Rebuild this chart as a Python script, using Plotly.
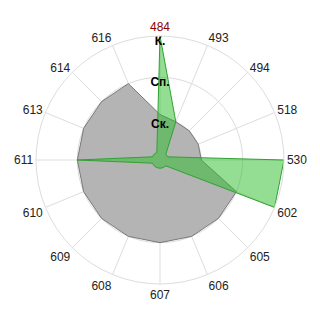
import plotly.graph_objects as go

categories = ["484", "493", "494", "518", "530", "602", "605", "606",
              "607", "608", "609", "610", "611", "613", "614", "616"]
gray_values = [1.1, 1.0, 1.0, 1.0, 1.0, 2.0, 2.0, 2.0,
               2.0, 2.0, 2.0, 2.0, 2.0, 2.0, 2.0, 2.0]
green_values = [3.0, 1.0, 0.2, 0.2, 3.0, 3.0, 0.2, 0.2,
                0.2, 0.2, 0.2, 0.2, 2.0, 0.2, 0.2, 0.2]
level_values = [1, 2, 3]
level_labels = ["Ск.", "Сп.", "К."]
highlight = "484"

tick_text = [f'<span style="color:#8b0000">{c}</span>' if c == highlight else c
             for c in categories]

fig = go.Figure()
fig.add_trace(go.Scatterpolar(
    r=gray_values + gray_values[:1], theta=categories + categories[:1],
    mode="lines", fill="toself", fillcolor="rgb(180,180,180)",
    line=dict(color="rgb(120,120,120)", width=1), hoverinfo="skip"))
fig.add_trace(go.Scatterpolar(
    r=green_values + green_values[:1], theta=categories + categories[:1],
    mode="lines", fill="toself", fillcolor="rgba(40,190,40,0.5)",
    line=dict(color="rgb(50,160,50)", width=1), hoverinfo="skip"))
fig.add_trace(go.Scatterpolar(
    r=level_values, theta=[categories[0]] * len(level_values),
    mode="text", text=level_labels, textposition="bottom center",
    textfont=dict(family="Liberation Sans, Arial", size=12, color="black", weight="bold"),
    hoverinfo="skip"))

fig.update_layout(
    width=320, height=320,
    margin=dict(l=36, r=36, t=36, b=36),
    paper_bgcolor="white", plot_bgcolor="white",
    showlegend=False,
    font=dict(family="Liberation Sans, Arial", size=12, color="#222"),
    polar=dict(
        bgcolor="white",
        domain=dict(x=[0, 1], y=[0, 1]),
        radialaxis=dict(range=[0, 3], tickvals=level_values, showticklabels=False,
                        showline=False, ticks="", gridcolor="#dddddd", gridwidth=1),
        angularaxis=dict(direction="clockwise", rotation=90, type="category",
                         categoryarray=categories, tickmode="array",
                         tickvals=categories, ticktext=tick_text,
                         gridcolor="#dddddd", linecolor="#dddddd", linewidth=1,
                         ticks="", tickfont=dict(size=12, color="#222")),
    ),
)
fig.write_html("out.html")
